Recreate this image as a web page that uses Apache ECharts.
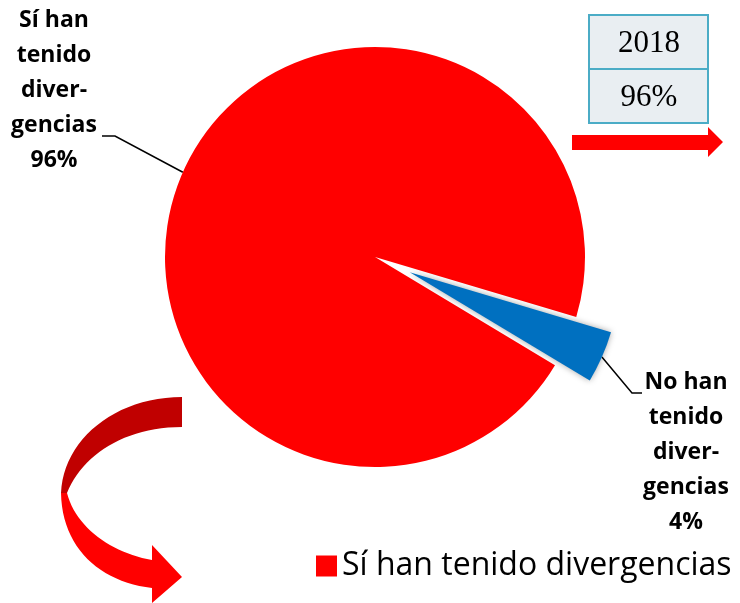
<!DOCTYPE html>
<html>
<head>
<meta charset="utf-8">
<script src="https://cdn.jsdelivr.net/npm/echarts@6/dist/echarts.min.js"></script>
<style>
  html, body { margin: 0; padding: 0; background: #fff; }
  #main { width: 740px; height: 603px; }
</style>
</head>
<body>
<div id="main"></div>
<script>
// datos del gráfico
var categories = ['Sí han tenido divergencias', 'No han tenido divergencias'];
var values = [96, 4];
var labelTexts = ['Sí han\ntenido\ndiver-\ngencias', 'No han\ntenido\ndiver-\ngencias'];
var colors = ['#FF0000', '#0070C0'];
var tableYear = '2018';
var tablePercent = '96%';

var startAng = -31;
var explode = 38;
var pieCenter = [375, 257];
// centro desplazado del sector azul (separado del pastel)
var midAng = (startAng + values[1] / (values[0] + values[1]) * 180) * Math.PI / 180;
var blueCenter = [pieCenter[0] + explode * Math.cos(midAng), pieCenter[1] - explode * Math.sin(midAng)];

// puntos de una curva bezier cúbica (para la flecha curva)
function bez(p0, p1, p2, p3) {
  var out = [];
  for (var i = 0; i <= 24; i++) {
    var t = i / 24, u = 1 - t;
    out.push([
      u * u * u * p0[0] + 3 * u * u * t * p1[0] + 3 * u * t * t * p2[0] + t * t * t * p3[0],
      u * u * u * p0[1] + 3 * u * u * t * p1[1] + 3 * u * t * t * p2[1] + t * t * t * p3[1]
    ]);
  }
  return out;
}

var topBand = bez([182, 397], [115, 397], [63, 440], [61, 493])
  .concat(bez([67, 493], [82, 455], [125, 427], [182, 427]));
var lowBand = bez([61, 493], [62, 548], [100, 582], [152, 588])
  .concat([[152, 603], [182, 577], [152, 545]])
  .concat(bez([152, 560], [112, 553], [76, 528], [67, 493]));

var chart = echarts.init(document.getElementById('main'));

var labelBase = {
  show: true,
  color: '#000',
  fontFamily: 'Open Sans',
  fontWeight: 'bold',
  fontSize: 23,
  lineHeight: 35,
  align: 'center',
  overflow: 'none',
  formatter: function (p) {
    return labelTexts[p.dataIndex] + '\n' + p.value + '%';
  }
};

var option = {
  color: colors,
  legend: {
    data: [categories[0]],
    left: 311,
    top: 545,
    icon: 'rect',
    itemWidth: 21,
    itemHeight: 21,
    itemGap: 10,
    textStyle: {
      fontFamily: 'Open Sans',
      fontSize: 32,
      color: '#000'
    }
  },
  graphic: [
    // tabla 2018
    { type: 'rect', shape: { x: 589, y: 15, width: 119, height: 54 },
      style: { fill: '#E9EEF2', stroke: '#4BACC6', lineWidth: 2 } },
    { type: 'rect', shape: { x: 589, y: 69, width: 119, height: 54 },
      style: { fill: '#E9EEF2', stroke: '#4BACC6', lineWidth: 2 } },
    { type: 'text', x: 649, y: 44,
      style: { text: tableYear, font: '31px "Liberation Serif"', fill: '#000', textAlign: 'center', textVerticalAlign: 'middle' } },
    { type: 'text', x: 649, y: 98,
      style: { text: tablePercent, font: '31px "Liberation Serif"', fill: '#000', textAlign: 'center', textVerticalAlign: 'middle' } },
    // flecha derecha
    { type: 'polygon',
      shape: { points: [[572, 135], [708, 135], [708, 127], [723, 142], [708, 157], [708, 150], [572, 150]] },
      style: { fill: '#FF0000' } },
    // flecha curva
    { type: 'polygon', shape: { points: topBand }, style: { fill: '#C00000' } },
    { type: 'polygon', shape: { points: lowBand }, style: { fill: '#FF0000' } }
  ],
  series: [
    {
      // sector rojo (el azul queda como hueco)
      type: 'pie',
      center: pieCenter,
      radius: 210,
      startAngle: startAng,
      animation: false,
      silent: true,
      itemStyle: { borderWidth: 0 },
      label: labelBase,
      labelLine: { show: true, lineStyle: { color: '#000', width: 1.5 } },
      labelLayout: function (params) {
        var pts = params.labelLinePoints;
        var s0 = pts ? pts[0] : [183, 171];
        return {
          x: 54, y: 90, align: 'center', verticalAlign: 'middle',
          labelLinePoints: [s0, [115, 136], [102, 136]]
        };
      },
      data: [
        { name: categories[0], value: values[0] },
        { name: categories[1], value: values[1],
          itemStyle: { color: 'transparent' }, label: { show: false }, labelLine: { show: false } }
      ]
    },
    {
      // sector azul separado
      type: 'pie',
      center: blueCenter,
      radius: 210,
      startAngle: startAng,
      animation: false,
      silent: true,
      itemStyle: { borderWidth: 0 },
      label: labelBase,
      labelLine: { show: true, lineStyle: { color: '#000', width: 1.5 } },
      labelLayout: function (params) {
        var pts = params.labelLinePoints;
        var s1 = pts ? pts[0] : [600, 356];
        return {
          x: 686, y: 452, align: 'center', verticalAlign: 'middle',
          labelLinePoints: [s1, [632, 393], [642, 393]]
        };
      },
      data: [
        { name: categories[0], value: values[0],
          itemStyle: { color: 'transparent' }, label: { show: false }, labelLine: { show: false } },
        { name: categories[1], value: values[1],
          itemStyle: { color: colors[1], shadowBlur: 6, shadowColor: 'rgba(0,0,0,0.35)' } }
      ]
    }
  ]
};

chart.setOption(option);
</script>
</body>
</html>
